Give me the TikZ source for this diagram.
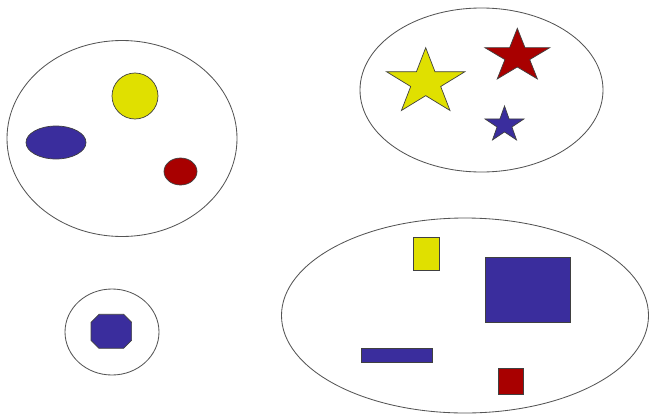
\documentclass[tikz,border=0pt]{standalone}
\usepackage{tikz}
\usetikzlibrary{positioning}
\definecolor{setyellow}{RGB}{224, 224, 0}
\definecolor{setblue}{RGB}{58, 45, 157}
\definecolor{setred}{RGB}{168, 0, 0}
\definecolor{setline}{RGB}{85, 85, 85}

% five-pointed star: style, centre x, centre y, outer radius, xscale
\newcommand{\drawstar}[5]{%
  \draw[#1, shift={(#2,#3)}, xscale=#5] (-90:#4)
    \foreach \k in {1,...,9} { -- ({-90+36*\k}:{ifthenelse(isodd(\k),0.382*#4,#4)}) } -- cycle;}

\begin{document}
\begin{tikzpicture}[
  x=0.025cm, y=-0.025cm,
  setring/.style={draw=setline, line width=0.6pt},
  piece/.style={draw=black!75, line width=0.5pt},
  yellowpiece/.style={piece, fill=setyellow},
  bluepiece/.style={piece, fill=setblue},
  redpiece/.style={piece, fill=setred}
]
\useasboundingbox (0,0) rectangle (649,414);

% round set
\draw[setring] (122,138.5) ellipse [x radius=115, y radius=98];
\draw[yellowpiece] (135,96) circle [radius=23];
\draw[bluepiece] (56,142.5) ellipse [x radius=30, y radius=16.5];
\draw[redpiece] (180.5,171.5) ellipse [x radius=16.5, y radius=13.5];

% star set
\draw[setring] (481.5,90) ellipse [x radius=121.5, y radius=82];
\drawstar{yellowpiece}{425.7}{82.4}{34.7}{1.19}
\drawstar{redpiece}{517.3}{56.3}{28}{1.22}
\drawstar{bluepiece}{504.5}{124.8}{18.8}{1.09}

% octagon set
\draw[setring] (112,332) ellipse [x radius=47, y radius=43];
\draw[bluepiece, shift={(111.3,331.3)}]
  (-12.3,-17) -- (12.3,-17) -- (20.3,-9) -- (20.3,9) -- (12.3,17)
  -- (-12.3,17) -- (-20.3,9) -- (-20.3,-9) -- cycle;

% rectangle set
\draw[setring] (465,315.5) ellipse [x radius=183.5, y radius=97.5];
\draw[yellowpiece] (413.3,237.3) rectangle (439.3,270.3);
\draw[bluepiece] (485,257.3) rectangle (570.7,322.7);
\draw[bluepiece] (361,348) rectangle (432.7,362);
\draw[redpiece] (498,368.3) rectangle (523.7,394);

\end{tikzpicture}
\end{document}
